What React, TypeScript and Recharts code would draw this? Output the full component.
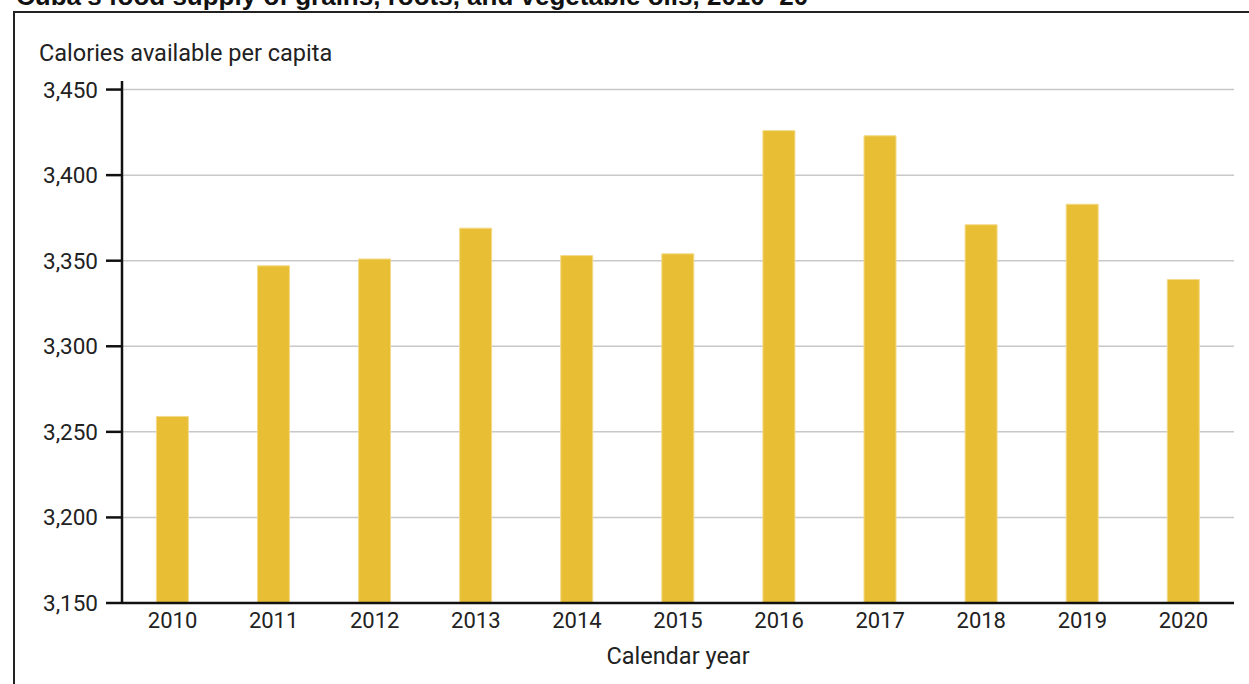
import React from 'react';
import { BarChart, Bar, XAxis, YAxis, CartesianGrid } from 'recharts';

const years = ['2010', '2011', '2012', '2013', '2014', '2015', '2016', '2017', '2018', '2019', '2020'];
const calories = [3259, 3347, 3351, 3369, 3353, 3354, 3426, 3423, 3371, 3383, 3339];
const yTicks = [3150, 3200, 3250, 3300, 3350, 3400, 3450];

const title = "Cuba's food supply of grains, roots, and vegetable oils, 2010–20";
const yLabel = 'Calories available per capita';
const xLabel = 'Calendar year';

const data = years.map((y, i) => ({ year: y, value: calories[i] }));

const FONT = 'Roboto, "Noto Sans", sans-serif';
const TEXT = '#222';

export default function App() {
  return (
    <div style={{ position: 'absolute', left: 0, top: 0, width: 1249, height: 684, overflow: 'hidden', background: '#fff' }}>
      <div
        style={{
          position: 'absolute',
          left: 16,
          top: -17,
          fontFamily: '"Liberation Sans", Arial, sans-serif',
          fontWeight: 700,
          fontSize: 26,
          lineHeight: '26px',
          color: '#111',
          whiteSpace: 'nowrap',
        }}
      >
        {title}
      </div>
      <div
        style={{
          position: 'absolute',
          left: 13,
          top: 11,
          width: 1300,
          height: 700,
          borderLeft: '2px solid #222',
          borderTop: '2px solid #222',
        }}
      />
      <div style={{ position: 'absolute', left: 0, top: 0 }}>
        <BarChart
          width={1249}
          height={684}
          data={data}
          margin={{ top: 81, right: 15, bottom: 0, left: 0 }}
          barCategoryGap="34%"
        >
          <CartesianGrid vertical={false} horizontalValues={yTicks} stroke="#c8c8c8" strokeWidth={1.5} />
          <XAxis
            dataKey="year"
            height={81}
            axisLine={{ stroke: '#111', strokeWidth: 2.5 }}
            tickLine={false}
            tickSize={9}
            tickMargin={0}
            tick={{ fill: TEXT, fontSize: 22, fontFamily: FONT }}
            label={{
              value: xLabel,
              position: 'insideBottom',
              offset: 20,
              fill: TEXT,
              fontSize: 23.5,
              fontFamily: FONT,
            }}
          />
          <YAxis
            width={122}
            domain={[3150, 3455]}
            ticks={yTicks}
            allowDataOverflow
            axisLine={{ stroke: '#111', strokeWidth: 2.5 }}
            tickLine={{ stroke: '#111', strokeWidth: 2.5 }}
            tickSize={16}
            tickMargin={8}
            tickFormatter={(v: number) => v.toLocaleString('en-US')}
            tick={{ fill: TEXT, fontSize: 22.5, fontFamily: FONT }}
            label={{
              content: () => (
                <text x={39} y={61} fill={TEXT} fontSize={23.5} fontFamily={FONT}>
                  {yLabel}
                </text>
              ),
            }}
          />
          <Bar dataKey="value" fill="#e8bf34" stroke="#f3da8a" strokeWidth={1} isAnimationActive={false} />
        </BarChart>
      </div>
    </div>
  );
}
